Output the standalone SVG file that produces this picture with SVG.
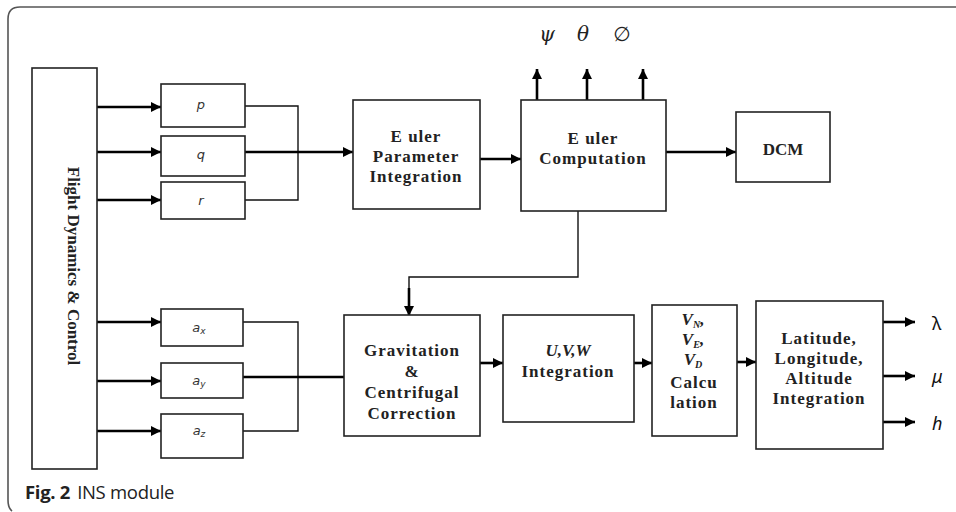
<svg xmlns="http://www.w3.org/2000/svg" width="956" height="512" viewBox="0 0 956 512">
<defs>
<marker id="ah" viewBox="0 0 10 10" refX="10" refY="5" markerWidth="4" markerHeight="4" orient="auto" markerUnits="strokeWidth">
<path d="M0,0 L10,5 L0,10 z" fill="#000"/>
</marker>
<style>
.box{fill:#fff;stroke:#222;stroke-width:1.6}
.thin{fill:none;stroke:#111;stroke-width:1.4}
.thick{fill:none;stroke:#000;stroke-width:2.6}
.arr{fill:none;stroke:#000;stroke-width:2.6;marker-end:url(#ah)}
.bt{font-family:"Liberation Serif",serif;font-weight:bold;font-size:17px;fill:#222;text-anchor:middle;letter-spacing:1px}
.it{font-family:"Liberation Serif",serif;font-weight:bold;font-style:italic;font-size:17px;fill:#222;text-anchor:middle}
.sm{font-family:"DejaVu Sans",sans-serif;font-style:italic;font-size:13px;fill:#333;text-anchor:middle}
.gr{font-family:"DejaVu Serif",serif;font-style:italic;font-size:20px;fill:#222;text-anchor:middle}
.out{font-family:"Noto Sans",sans-serif;font-size:18px;fill:#111}
.nols{letter-spacing:0}
</style>
</defs>
<rect width="956" height="512" fill="#fff"/>
<path d="M956,7 H20 Q8,7 8,19 V500 Q8,508 12,511" fill="none" stroke="#555" stroke-width="1.6"/>

<g id="connectors">
<line class="arr" x1="97" y1="107" x2="161" y2="107"/>
<line class="arr" x1="97" y1="152" x2="161" y2="152"/>
<line class="arr" x1="97" y1="200" x2="161" y2="200"/>
<polyline class="thin" points="243,106 298,106 298,200 243,200"/>
<line class="arr" x1="243" y1="152" x2="353" y2="152"/>
<line class="arr" x1="480" y1="159" x2="521" y2="159"/>
<line class="arr" x1="537" y1="100" x2="537" y2="69"/>
<line class="arr" x1="587" y1="100" x2="587" y2="69"/>
<line class="arr" x1="643" y1="100" x2="643" y2="69"/>
<line class="arr" x1="666" y1="152" x2="736" y2="152"/>
<polyline class="thin" points="578,211 578,277 409,277 409,290"/>
<line class="arr" x1="409" y1="288" x2="409" y2="316"/>
<line class="arr" x1="97" y1="322" x2="161" y2="322"/>
<line class="arr" x1="97" y1="381" x2="161" y2="381"/>
<line class="arr" x1="97" y1="431" x2="161" y2="431"/>
<polyline class="thin" points="243,322 298,322 298,431 243,431"/>
<line class="thick" x1="243" y1="377" x2="344" y2="377"/>
<line class="arr" x1="480" y1="363" x2="503" y2="363"/>
<line class="arr" x1="634" y1="363" x2="652" y2="363"/>
<line class="arr" x1="737" y1="362" x2="756" y2="362"/>
<line class="arr" x1="883" y1="322" x2="915" y2="322"/>
<line class="arr" x1="883" y1="376" x2="915" y2="376"/>
<line class="arr" x1="883" y1="422" x2="915" y2="422"/>
</g>

<g id="flight">
<rect class="box" x="32" y="68" width="65" height="401"/>
<text class="bt nols" transform="translate(68,266) rotate(90)">Flight Dynamics &amp; Control</text>
</g>
<g id="p"><rect class="box" x="161" y="84" width="84" height="43"/><text class="sm" x="201" y="109">p</text></g>
<g id="q"><rect class="box" x="161" y="136" width="84" height="40"/><text class="sm" x="201" y="159">q</text></g>
<g id="r"><rect class="box" x="161" y="182" width="84" height="37"/><text class="sm" x="201" y="205">r</text></g>

<g id="eulerparam">
<rect class="box" x="353" y="100" width="127" height="109"/>
<text class="bt" x="416" y="142">E uler</text>
<text class="bt" x="416" y="162">Parameter</text>
<text class="bt" x="416" y="182">Integration</text>
</g>
<g id="eulercomp">
<rect class="box" x="521" y="100" width="145" height="111"/>
<text class="bt" x="593" y="144">E uler</text>
<text class="bt" x="593" y="164">Computation</text>
</g>
<g id="dcm">
<rect class="box" x="736" y="112" width="94" height="70"/>
<text class="bt nols" x="783" y="155">DCM</text>
</g>
<g id="angles">
<text class="gr" x="547" y="41">ψ</text>
<text class="gr" x="583" y="41">θ</text>
<text x="622" y="41" font-family="DejaVu Sans,sans-serif" font-size="20" fill="#222" text-anchor="middle">∅</text>
</g>

<g id="ax"><rect class="box" x="161" y="309" width="82" height="37"/><text class="sm" x="199" y="332">a<tspan font-size="9" dy="2">x</tspan></text></g>
<g id="ay"><rect class="box" x="161" y="363" width="82" height="35"/><text class="sm" x="199" y="385">a<tspan font-size="9" dy="2">y</tspan></text></g>
<g id="az"><rect class="box" x="161" y="414" width="82" height="44"/><text class="sm" x="199" y="435">a<tspan font-size="9" dy="2">z</tspan></text></g>

<g id="grav">
<rect class="box" x="344" y="315" width="136" height="121"/>
<text class="bt" x="412" y="356">Gravitation</text>
<text class="bt" x="412" y="377">&amp;</text>
<text class="bt" x="412" y="398">Centrifugal</text>
<text class="bt" x="412" y="419">Correction</text>
</g>
<g id="uvw">
<rect class="box" x="503" y="315" width="131" height="107"/>
<text class="it" x="568" y="356">U,V,W</text>
<text class="bt" x="568" y="377">Integration</text>
</g>
<g id="vned">
<rect class="box" x="652" y="305" width="85" height="131"/>
<text class="it" x="693" y="325">V<tspan font-size="10" dy="3">N</tspan><tspan dy="-3">,</tspan></text>
<text class="it" x="693" y="345">V<tspan font-size="10" dy="3">E</tspan><tspan dy="-3">,</tspan></text>
<text class="it" x="693" y="365">V<tspan font-size="10" dy="3">D</tspan></text>
<text class="bt" x="694" y="388">Calcu</text>
<text class="bt" x="694" y="408">lation</text>
</g>
<g id="lla">
<rect class="box" x="756" y="301" width="127" height="148"/>
<text class="bt" x="819" y="344">Latitude,</text>
<text class="bt" x="819" y="364">Longitude,</text>
<text class="bt" x="819" y="384">Altitude</text>
<text class="bt" x="819" y="404">Integration</text>
</g>
<g id="outputs">
<text class="out" x="932" y="330">λ</text>
<text class="out" x="932" y="383" font-style="italic">μ</text>
<text class="out" x="932" y="430" font-style="italic">h</text>
</g>
<g id="caption">
<text x="25" y="499" font-family="Open Sans,Noto Sans,sans-serif" font-size="18.5" fill="#222" letter-spacing="-0.3"><tspan font-weight="bold">Fig. 2</tspan><tspan dx="7">INS module</tspan></text>
</g>
</svg>
